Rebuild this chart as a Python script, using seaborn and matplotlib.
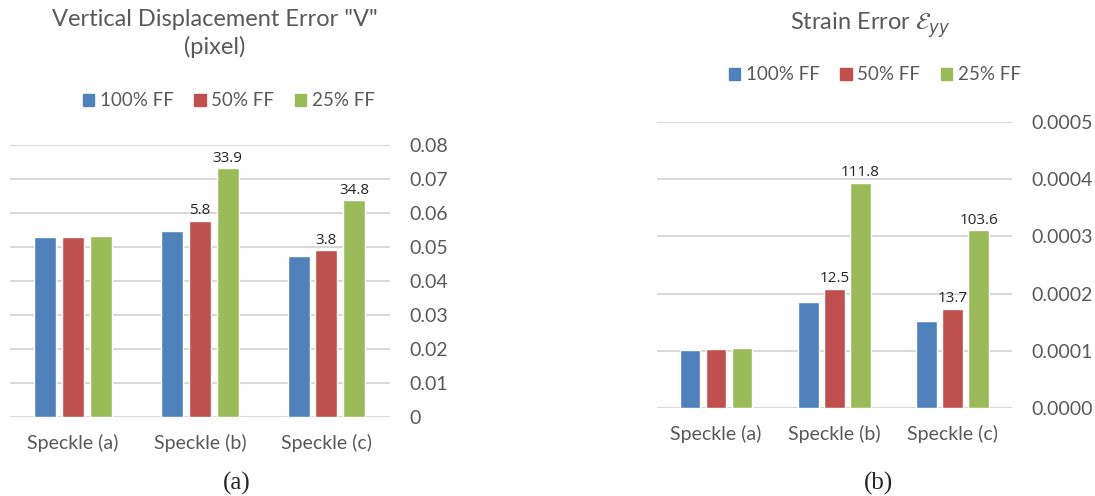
import numpy as np
import pandas as pd
import seaborn as sns
import matplotlib.pyplot as plt

# Datos
speckles = ["Speckle (a)", "Speckle (b)", "Speckle (c)"]
series = ["100% FF", "50% FF", "25% FF"]

# error de desplazamiento vertical V (pixel)
v_100 = [0.0530, 0.0547, 0.0473]
v_50 = [0.0530, 0.0578, 0.0491]
v_25 = [0.0532, 0.0732, 0.0638]
v_pct_50 = ["", "5.8", "3.8"]
v_pct_25 = ["", "33.9", "34.8"]

# error de deformación eyy
e_100 = [0.0001017, 0.0001855, 0.0001524]
e_50 = [0.0001035, 0.0002085, 0.0001733]
e_25 = [0.0001052, 0.0003930, 0.0003105]
e_pct_50 = ["", "12.5", "13.7"]
e_pct_25 = ["", "111.8", "103.6"]

colors = ["#4f81bd", "#c0504d", "#9bbb59"]
gray = "#595959"

sns.set_style("white")
plt.rcParams['font.family'] = ['Lato', 'DejaVu Sans']


def tabla(a, b, c):
    return pd.DataFrame({
        "speckle": speckles * 3,
        "serie": [series[0]] * 3 + [series[1]] * 3 + [series[2]] * 3,
        "valor": a + b + c,
    })


fig = plt.figure(figsize=(10.95, 4.96), dpi=100)
ax1 = fig.add_axes([0.009, 0.159, 0.347, 0.548])
ax2 = fig.add_axes([0.600, 0.177, 0.324, 0.577])

paneles = [
    (ax1, tabla(v_100, v_50, v_25), v_pct_50, v_pct_25, 14,
     np.arange(0, 0.081, 0.01), ["0"] + [f"{t:.2f}" for t in np.arange(0.01, 0.081, 0.01)]),
    (ax2, tabla(e_100, e_50, e_25), e_pct_50, e_pct_25, 14,
     np.arange(0, 0.00051, 0.0001), [f"{t:.4f}" for t in np.arange(0, 0.00051, 0.0001)]),
]

for ax, df, p50, p25, ypad, ticks, ticklabels in paneles:
    sns.barplot(data=df, x="speckle", y="valor", hue="serie", palette=colors, saturation=1,
                width=0.66, gap=0.21, ax=ax, legend=False, zorder=3)
    ax.bar_label(ax.containers[1], labels=p50, fontsize=11, padding=2,
                 family=['Open Sans', 'DejaVu Sans'])
    ax.bar_label(ax.containers[2], labels=p25, fontsize=11, padding=2,
                 family=['Open Sans', 'DejaVu Sans'])
    ax.set_ylim(ticks[0], ticks[-1])
    ax.set_yticks(ticks)
    ax.set_yticklabels(ticklabels)
    ax.yaxis.tick_right()
    ax.grid(axis="y", color="#d9d9d9", linewidth=1.5, zorder=0)
    ax.set_xlim(-0.5, 2.5)
    ax.set_xlabel("")
    ax.set_ylabel("")
    ax.tick_params(axis="both", length=0, labelsize=14, colors=gray)
    ax.tick_params(axis="y", pad=ypad)
    ax.tick_params(axis="x", pad=12)
    for s in ax.spines.values():
        s.set_visible(False)

# títulos
fig.text(0.196, 0.932, 'Vertical Displacement Error "V"\n(pixel)', ha="center", va="center",
         fontsize=17, color=gray, linespacing=1.35)
fig.text(0.795, 0.950, r'Strain Error $\mathcal{E}_{yy}$', ha="center", va="center",
         fontsize=17, color=gray)

# leyendas
handles = [plt.Rectangle((0, 0), 1, 1, color=c) for c in colors]
fig.legend(handles, series, loc="center", bbox_to_anchor=(0.209, 0.797), ncol=3, frameon=False,
           handlelength=0.6, handleheight=0.6, handletextpad=0.3, columnspacing=1.1,
           fontsize=13.5, labelcolor=gray)
fig.legend(handles, series, loc="center", bbox_to_anchor=(0.799, 0.849), ncol=3, frameon=False,
           handlelength=0.6, handleheight=0.6, handletextpad=0.3, columnspacing=1.1,
           fontsize=13.5, labelcolor=gray)

# rótulos (a) y (b)
fig.text(0.216, 0.026, "(a)", ha="center", va="center", fontsize=18, family="Liberation Serif")
fig.text(0.802, 0.026, "(b)", ha="center", va="center", fontsize=18, family="Liberation Serif")

plt.savefig("out.png", dpi=100)
